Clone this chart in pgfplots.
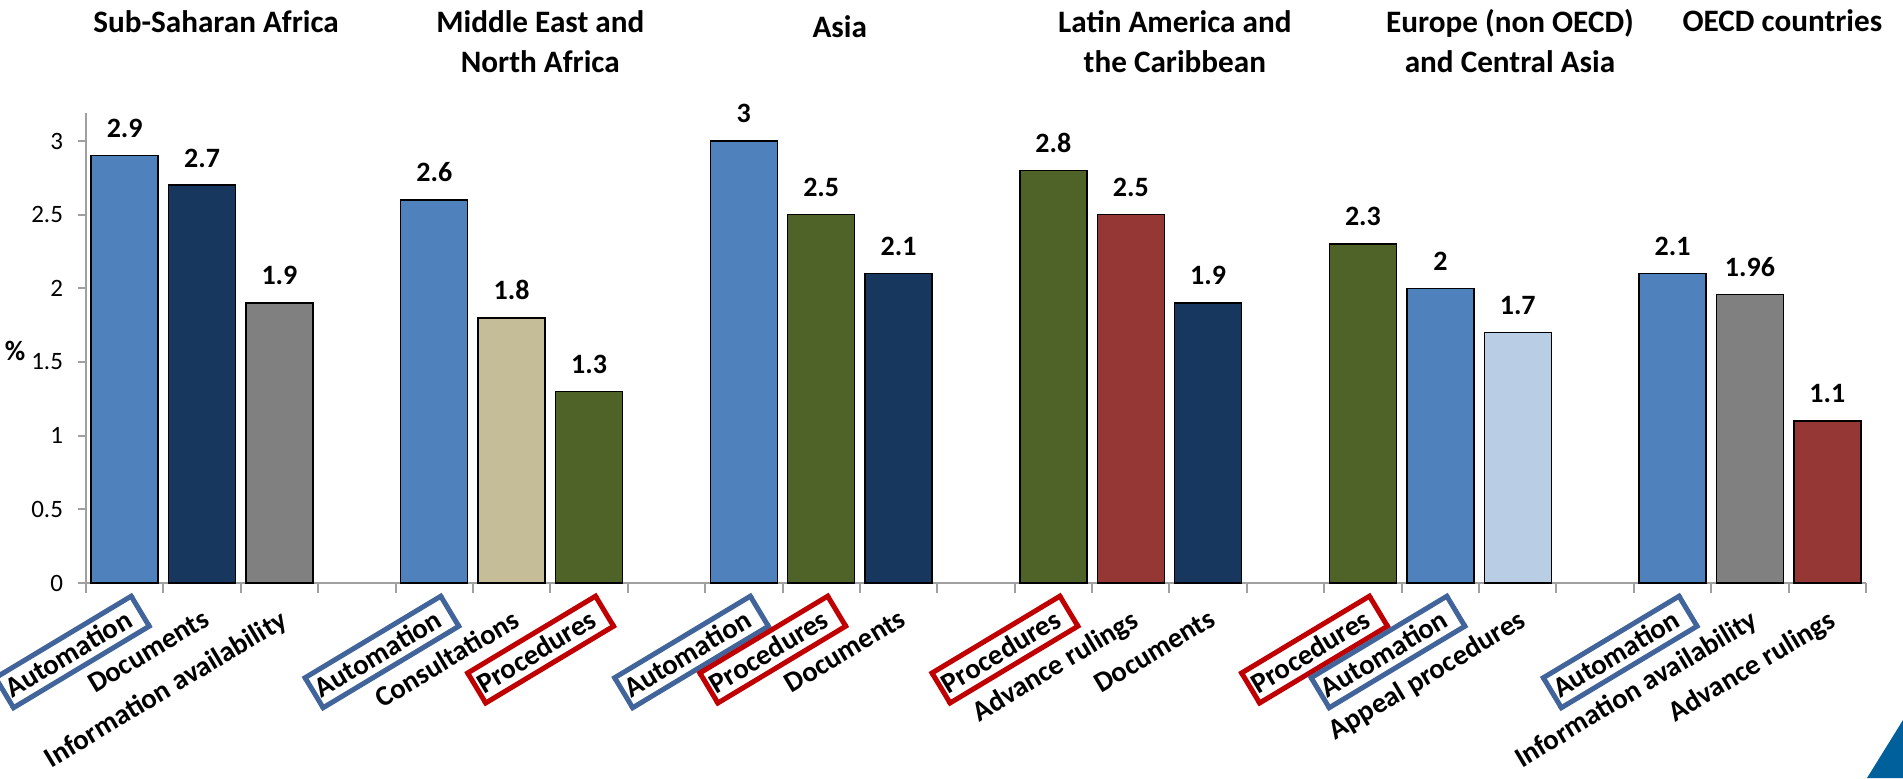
\documentclass[border=0pt]{standalone}
\usepackage{fontspec}
\setmainfont{Carlito}
\usepackage{pgfplots}
\pgfplotsset{compat=1.18}

\definecolor{cAuto}{HTML}{4F81BD}
\definecolor{cNavy}{HTML}{17375E}
\definecolor{cGray}{HTML}{808080}
\definecolor{cTan}{HTML}{C4BD97}
\definecolor{cOlive}{HTML}{4F6228}
\definecolor{cRed}{HTML}{953735}
\definecolor{cLight}{HTML}{B9CDE5}
\definecolor{bxBlue}{HTML}{41649A}
\definecolor{bxRed}{HTML}{C00000}
\definecolor{axGray}{HTML}{A0A0A0}
\definecolor{corner}{HTML}{00609C}

% framed tick label that keeps the position of the plain text
\newcommand\bx[2]{%
  \setbox0\hbox{#2}%
  \makebox[\wd0][l]{\hspace*{-3pt}\raisebox{0pt}[\ht0][\dp0]{%
    {\setlength\fboxrule{2.5pt}\setlength\fboxsep{0.5pt}\color{#1}%
     \fbox{\color{black}\rule[-2.4pt]{0pt}{14pt}#2\hspace{4.5pt}}}}}}

\begin{document}
\begin{tikzpicture}
\begin{axis}[
    scale only axis,
    width=890pt, height=235pt,
    xmin=-0.5, xmax=22.5,
    ymin=0, ymax=3.19,
    ybar, bar width=33.5pt, bar shift=0pt,
    axis x line*=bottom, axis y line*=left,
    axis line style={-, draw=axGray, line width=1pt},
    tick align=outside,
    tick style={draw=axGray, line width=1pt},
    major tick length=4pt,
    minor tick length=5pt,
    xtick={0,1,2,4,5,6,8,9,10,12,13,14,16,17,18,20,21,22},
    minor xtick={-0.5,0.5,...,22.5},
    major x tick style={draw=none},
    xticklabels={
      {\bx{bxBlue}{Automation}}, Documents, Information availability,
      {\bx{bxBlue}{Automation}}, Consultations, {\bx{bxRed}{Procedures}},
      {\bx{bxBlue}{Automation}}, {\bx{bxRed}{Procedures}}, Documents,
      {\bx{bxRed}{Procedures}}, Advance rulings, Documents,
      {\bx{bxRed}{Procedures}}, {\bx{bxBlue}{Automation}}, Appeal procedures,
      {\bx{bxBlue}{Automation}}, Information availability, Advance rulings},
    xticklabel style={yshift=-7pt, rotate=31, anchor=north east, inner sep=1pt,
      font=\fontsize{14.3}{16}\selectfont\bfseries},
    ytick={0,0.5,...,3},
    yticklabel style={font=\fontsize{12.5}{14}\selectfont, xshift=-4pt},
    /pgf/number format/assume math mode=true,
    ylabel={\bfseries\%},
    every axis y label/.style={at={(rel axis cs:0,0.494)}, anchor=center,
      xshift=-35.5pt, font=\fontsize{14}{16}\selectfont},
    nodes near coords,
    every node near coord/.append style={font=\fontsize{14}{16}\selectfont\bfseries,
      anchor=south, yshift=5.3pt, black},
    every axis plot/.append style={draw=black, line width=0.7pt},
    clip=false,
]
\addplot[fill=cAuto] coordinates {(0,2.9) (4,2.6) (8,3) (17,2) (20,2.1)};
\addplot[fill=cNavy] coordinates {(1,2.7) (10,2.1) (14,1.9)};
\addplot[fill=cGray] coordinates {(2,1.9) (21,1.96)};
\addplot[fill=cTan] coordinates {(5,1.8)};
\addplot[fill=cOlive] coordinates {(6,1.3) (9,2.5) (12,2.8) (16,2.3)};
\addplot[fill=cRed] coordinates {(13,2.5) (22,1.1)};
\addplot[fill=cLight] coordinates {(18,1.7)};

\tikzset{grp/.style={font=\fontsize{15.6}{19.75}\selectfont\bfseries, anchor=base, inner sep=0pt}}
\node[grp] at (axis cs:1.18,3.736) {Sub-Saharan Africa};
\node[grp] at (axis cs:5.37,3.736) {Middle East and};
\node[grp] at (axis cs:5.37,3.468) {North Africa};
\node[grp] at (axis cs:9.24,3.70) {Asia};
\node[grp] at (axis cs:13.57,3.736) {Latin America and};
\node[grp] at (axis cs:13.57,3.468) {the Caribbean};
\node[grp] at (axis cs:17.9,3.736) {Europe (non OECD)};
\node[grp] at (axis cs:17.9,3.468) {and Central Asia};
\node[grp] at (axis cs:21.42,3.74) {OECD countries};
\end{axis}
\pgfresetboundingbox
\path[use as bounding box] (-43pt,-97.5pt) rectangle (908.5pt,291.5pt);
\fill[corner] (890.5pt,-97.5pt) -- (908.5pt,-97.5pt) -- (908.5pt,-68.5pt) -- cycle;
\end{tikzpicture}
\end{document}
